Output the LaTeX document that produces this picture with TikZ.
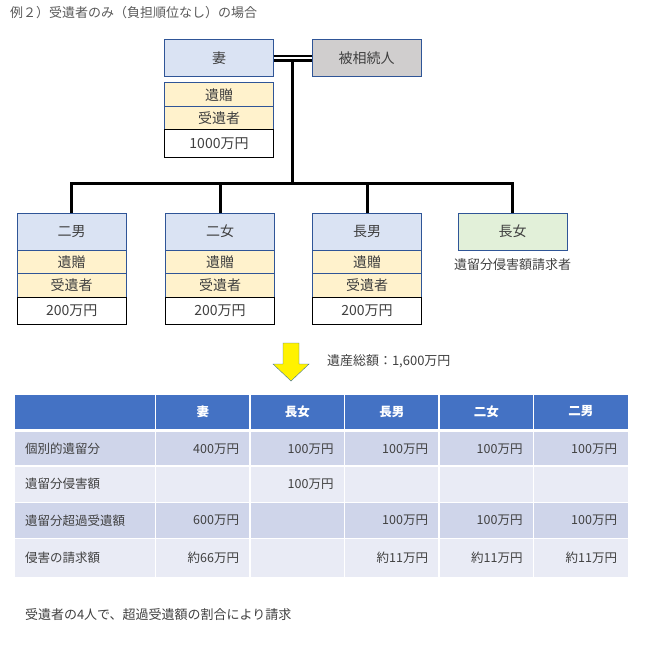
\documentclass[tikz,border=0pt]{standalone}
\usepackage{fontspec}
\setmainfont{Noto Sans CJK JP}
\usetikzlibrary{positioning}

\definecolor{boxblue}{HTML}{2F5597}
\definecolor{headblue}{HTML}{DAE3F3}
\definecolor{giftyellow}{HTML}{FFF2CC}
\definecolor{heirgray}{HTML}{D0CECE}
\definecolor{claimgreen}{HTML}{E2F0D9}
\definecolor{tabhead}{HTML}{4472C4}
\definecolor{rowdark}{HTML}{CFD5EA}
\definecolor{rowlight}{HTML}{E9EBF5}
\definecolor{textgray}{HTML}{404040}
\definecolor{titlegray}{HTML}{595959}
\definecolor{arrowline}{HTML}{41719C}

\begin{document}
\begin{tikzpicture}[x=1pt, y=-1pt,
    every node/.style={text=textgray, inner sep=0pt, outer sep=0pt},
    person/.style={draw=boxblue, line width=1pt, minimum width=109pt, minimum height=37pt, font=\fontsize{14}{16}\selectfont},
    gift/.style={draw=boxblue, fill=giftyellow, line width=1pt, minimum width=109pt, minimum height=23.4pt, font=\fontsize{14}{16}\selectfont},
    amount/.style={draw=black, fill=white, line width=1pt, minimum width=109pt, minimum height=27.3pt, font=\fontsize{14}{16}\selectfont},
    tree/.style={line width=3pt},
    marriage/.style={double, line width=2.4pt, double distance=2pt},
    small/.style={font=\fontsize{13}{15}\selectfont},
    cell/.style={font=\fontsize{12.5}{15}\selectfont},
    headtext/.style={font=\fontsize{12.5}{15}\selectfont\bfseries, text=white},
    value/.style={cell, anchor=east},
    rowname/.style={cell, anchor=west}]
  \useasboundingbox (0,0) rectangle (651,671);

  \node[small, anchor=west, text=titlegray] (title) at (10,12.5) {例２）受遺者のみ（負担順位なし）の場合};

  % family
  \node[person, fill=headblue] (wife) at (219,58.5) {妻};
  \node[person, fill=heirgray] (deceased) at (366.5,58.5) {被相続人};
  \node[gift, below=6pt of wife] (wifegift) {遺贈};
  \node[gift, below=0pt of wifegift] (wifedonee) {受遺者};
  \node[amount, below=0pt of wifedonee] (wifeamt) {1000万円};

  \node[person, fill=headblue] (son2) at (71.7,231.7) {二男};
  \node[gift, below=0pt of son2] (son2gift) {遺贈};
  \node[gift, below=0pt of son2gift] (son2donee) {受遺者};
  \node[amount, below=0pt of son2donee] (son2amt) {200万円};

  \node[person, fill=headblue] (dau2) at (220,231.7) {二女};
  \node[gift, below=0pt of dau2] (dau2gift) {遺贈};
  \node[gift, below=0pt of dau2gift] (dau2donee) {受遺者};
  \node[amount, below=0pt of dau2donee] (dau2amt) {200万円};

  \node[person, fill=headblue] (son1) at (367,231.7) {長男};
  \node[gift, below=0pt of son1] (son1gift) {遺贈};
  \node[gift, below=0pt of son1gift] (son1donee) {受遺者};
  \node[amount, below=0pt of son1donee] (son1amt) {200万円};

  \node[person, fill=claimgreen] (dau1) at (512.5,231.7) {長女};
  \node[small, below=8pt of dau1] (dau1note) {遺留分侵害額請求者};

  \path (wife.east) -- (deceased.west) coordinate[pos=0.5] (m);
  \coordinate (busy) at (0,183);
  \coordinate (bus) at (m |- busy);
  \draw[tree] (m) -- (bus);
  \draw[tree] (son2.north) |- (bus) -| (son1.north);
  \draw[tree] (dau2.north) |- (bus) -| (dau1.north);
  \draw[marriage] (wife.east) -- (deceased.west);

  % arrow
  \draw[draw=arrowline, fill=yellow] (283,343) -- (299,343) -- (299,364) -- (309,364) -- (291,381) -- (273,364) -- (283,364) -- cycle;
  \node[small, anchor=west] (total) at (327,361) {遺産総額：1,600万円};

  % table
  \fill[tabhead] (15,394.5) rectangle (628,428.5);
  \fill[rowdark] (15,431.5) rectangle (628,466);
  \fill[rowlight] (15,466) rectangle (628,502.5);
  \fill[rowdark] (15,502.5) rectangle (628,538.3);
  \fill[rowlight] (15,538.3) rectangle (628,577.3);
  \draw[white, line width=1.2pt] (15,466) -- (628,466);
  \draw[white, line width=1.2pt] (15,502.5) -- (628,502.5);
  \draw[white, line width=1.2pt] (15,538.3) -- (628,538.3);
  \foreach \x in {155.5,250,344.5,439,533.5}
    \draw[white, line width=1.5pt] (\x,394.5) -- (\x,577.3);

  \node[headtext] (hwife) at (202.75,411.5) {妻};
  \node[headtext] (hdau1) at (297.25,411.5) {長女};
  \node[headtext] (hson1) at (391.75,411.5) {長男};
  \node[headtext] (hdau2) at (486.25,411.5) {二女};
  \node[headtext] (hson2) at (580.75,411.5) {二男};

  \node[rowname] (row1) at (25,448.75) {個別的遺留分};
  \node[value] (v1a) at (239,448.75) {400万円};
  \node[value] (v1b) at (333.5,448.75) {100万円};
  \node[value] (v1c) at (428,448.75) {100万円};
  \node[value] (v1d) at (522.5,448.75) {100万円};
  \node[value] (v1e) at (617,448.75) {100万円};

  \node[rowname] (row2) at (25,484.25) {遺留分侵害額};
  \node[value] (v2b) at (333.5,484.25) {100万円};

  \node[rowname] (row3) at (25,520.4) {遺留分超過受遺額};
  \node[value] (v3a) at (239,520.4) {600万円};
  \node[value] (v3c) at (428,520.4) {100万円};
  \node[value] (v3d) at (522.5,520.4) {100万円};
  \node[value] (v3e) at (617,520.4) {100万円};

  \node[rowname] (row4) at (25,557.8) {侵害の請求額};
  \node[value] (v4a) at (239,557.8) {約66万円};
  \node[value] (v4c) at (428,557.8) {約11万円};
  \node[value] (v4d) at (522.5,557.8) {約11万円};
  \node[value] (v4e) at (617,557.8) {約11万円};

  \node[small, anchor=west] (note) at (25,615) {受遺者の4人で、超過受遺額の割合により請求};
\end{tikzpicture}
\end{document}
